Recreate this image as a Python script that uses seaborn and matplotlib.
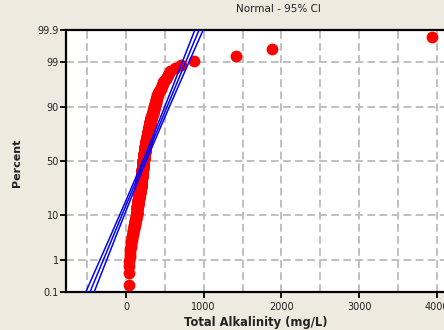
import matplotlib
matplotlib.use("Agg")
import matplotlib.pyplot as plt
import numpy as np
import pandas as pd
import seaborn as sns
from statistics import NormalDist

# ---- data ----
alkalinity = [
    38, 40, 42, 44,
    47, 50, 54, 57, 61,
    65, 68, 71, 74, 78,
    80, 83, 85, 88, 90, 93, 95, 98, 100, 103, 105, 108, 110,
    112, 114, 116, 118, 120, 122, 124, 126, 127, 129, 131, 133, 135,
    136, 136, 137, 138, 139, 139, 140, 141, 142, 142, 143, 144, 145, 145, 146, 147, 148, 148, 149, 150,
    151, 152, 152, 153, 154, 155, 156, 157, 157, 158, 159, 160, 161, 162, 163, 163, 164, 165, 166, 167,
    168, 168, 169, 170, 171, 172, 173, 173, 174, 175, 176, 177, 178, 179, 179, 180, 181, 182, 183, 184,
    185, 185, 186, 186, 186, 187, 187, 188, 188, 188, 189, 189, 190, 190, 190, 191, 191, 192, 192, 192,
    193, 193, 194, 194, 194, 195, 195, 196, 196, 196, 197, 197, 198, 198, 198, 199, 199, 200, 200, 200,
    201, 201, 202, 202, 202, 203, 203, 204, 204, 204, 205, 205, 206, 206, 206, 207, 207, 208, 208, 208,
    209, 209, 210, 210, 210, 211, 211, 212, 212, 212, 213, 213, 214, 214, 214, 215, 215, 216, 216, 216,
    217, 217, 217, 218, 218, 218, 219, 219, 219, 220, 220, 220, 221, 221, 221, 222, 222, 222, 223, 223,
    223, 224, 224, 225, 225, 226, 226, 227, 227, 228, 228, 229, 229, 230, 230, 231, 231, 232, 232, 233,
    233, 234, 234, 235, 235, 236, 236, 237, 237, 238, 238, 239, 239, 240, 240, 241, 241, 242, 242, 243,
    243, 244, 244, 245, 245, 246, 246, 247, 247, 248, 248, 249, 249, 250, 251, 251, 252, 253, 253, 254,
    254, 255, 256, 256, 257, 257,
    258, 259, 260, 260, 261, 262, 263, 264, 264, 265, 266, 267, 268, 268, 269, 270, 271, 272, 272, 273,
    274, 275, 276, 276, 277, 278, 279, 280, 280, 281, 282, 283, 284, 284, 285, 286, 287, 288, 288, 289, 290,
    291, 292, 293, 294, 295, 296, 297, 298, 299, 300, 301, 302, 303, 304, 305, 306, 307, 308, 309, 310,
    311, 312, 313, 314, 315, 316, 317, 318, 319, 320,
    322, 324, 326, 328, 330, 332, 334, 336, 338, 340, 342, 344, 346, 348, 350, 352, 354, 355, 357, 359,
    361, 362, 364,
    366, 368, 371, 373, 375, 378, 380, 382, 384, 387, 389, 391, 394, 396, 398, 401, 403,
    410, 417, 424, 431, 438, 445, 452, 459, 466, 473, 480,
    495, 510, 525, 540, 555, 570,
    630, 708, 871, 1415, 1875, 3935,
]
fit_params = [238, 227]          # fitted normal line: mean, std dev
percent_ticks = [0.1, 1, 10, 50, 90, 99, 99.9]
percent_labels = ["0.1", "1", "10", "50", "90", "99", "99.9"]
x_ticks = [0, 1000, 2000, 3000, 4000]
x_tick_labels = ["0", "1000", "2000", "3000", "4000"]

nd = NormalDist()
vals = np.sort(np.array(alkalinity, dtype=float))
n = len(vals)
ranks = np.arange(1, n + 1)
pp = (ranks - 0.3) / (n + 0.4)
zs = np.array([nd.inv_cdf(p) for p in pp])
df = pd.DataFrame({"alk": vals, "z": zs})

mu, sd = fit_params
zlo, zhi = nd.inv_cdf(0.001), nd.inv_cdf(0.999)
zline = np.linspace(zlo - 0.3, zhi + 0.3, 200)
fit = mu + zline * sd
se = sd / np.sqrt(n) * np.sqrt(1 + zline ** 2 / 2)
lower = fit - 1.96 * se
upper = fit + 1.96 * se

sns.set_theme(style="white")
plt.rcParams["font.family"] = ["DejaVu Sans"]

W, H = 444, 330
fig = plt.figure(figsize=(W / 100, H / 100), dpi=100, facecolor="#EEEAE0")
ax = fig.add_axes([66 / W, 1 - 292 / H, 424 / W, 262 / H])
ax.set_facecolor("white")

grid_kw = dict(color="#C0C0C0", lw=1.4, ls=(0, (4, 2.2)), zorder=0)
for gx in np.arange(-500, 4501, 500):
    ax.axvline(gx, **grid_kw)
for p in percent_ticks[1:-1]:
    ax.axhline(nd.inv_cdf(p / 100), **grid_kw)

sns.scatterplot(data=df, x="alk", y="z", color="#FF0000", s=72, linewidth=0,
                ax=ax, zorder=3, legend=False)
for line in (lower, fit, upper):
    ax.plot(line, zline, color="#0000FF", lw=1.1, zorder=4)

ax.set_xlim(-772, 4685)
ax.set_ylim(zlo, zhi)
ax.set_yticks([nd.inv_cdf(p / 100) for p in percent_ticks])
ax.set_yticklabels(percent_labels)
ax.set_xticks(x_ticks)
ax.set_xticklabels(x_tick_labels)
ax.tick_params(axis="both", which="major", direction="out", length=4, width=1.3,
               color="black", labelsize=7, labelcolor="#222222", left=True, bottom=True)
ax.tick_params(axis="y", pad=1)
ax.tick_params(axis="x", pad=3)

for side in ("left", "top", "bottom"):
    ax.spines[side].set_visible(True)
    ax.spines[side].set_color("black")
    ax.spines[side].set_linewidth(1.6)
ax.spines["right"].set_visible(False)

ax.set_xlabel("")
ax.set_ylabel("")
ax.set_title("Normal - 95% CI", fontsize=7.5, color="#222222", pad=13)
fig.text(17 / W, 1 - 163 / H, "Percent", rotation=90, ha="center", va="center",
         fontsize=8, fontweight="bold", color="#222222")
fig.text(256 / W, 1 - 316 / H, "Total Alkalinity (mg/L)", ha="center", va="top",
         fontsize=8.3, fontweight="bold", color="#222222")

fig.savefig("out.png", dpi=100, facecolor=fig.get_facecolor())
